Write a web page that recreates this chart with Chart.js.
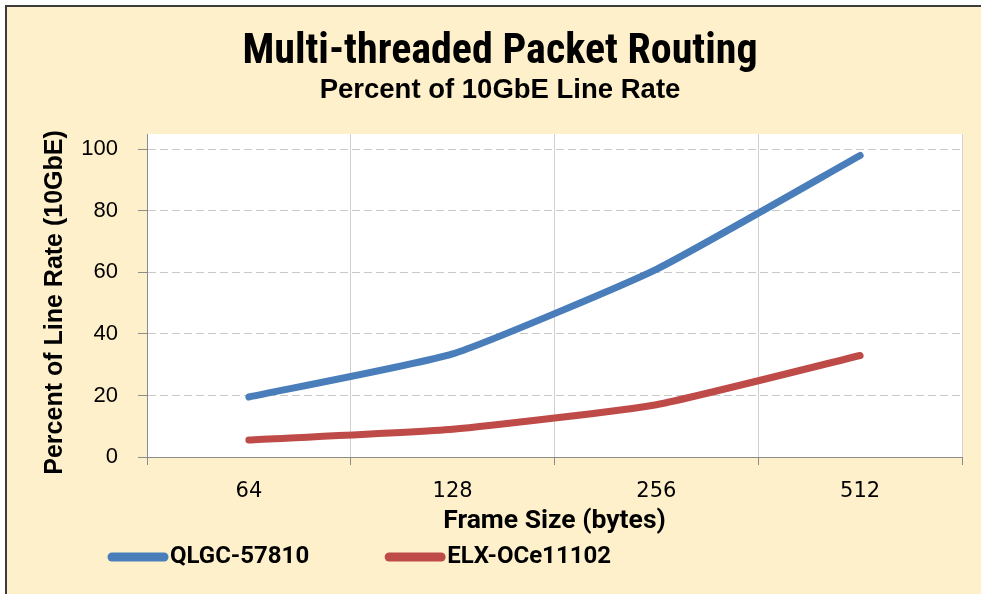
<!DOCTYPE html>
<html>
<head>
<meta charset="utf-8">
<title>Multi-threaded Packet Routing</title>
<script src="https://cdn.jsdelivr.net/npm/chart.js@4.4.1/dist/chart.umd.min.js"></script>
<style>
    html, body { margin: 0; padding: 0; background: #ffffff; width: 981px; height: 594px; overflow: hidden; }
    #frame {
        position: absolute; left: 5px; top: 5px; right: 0; bottom: 0;
        background: #fff0cc;
        border-left: 2px solid #3c3c3c;
        border-top: 2px solid #3c3c3c;
    }
    #routingChart { position: absolute; left: 0; top: 0; }
</style>
</head>
<body>
<div id="frame"></div>
<canvas id="routingChart" width="981" height="594"></canvas>
<script>
// Данные графика
const frameSizes = ['64', '128', '256', '512'];
const qlgcRate = [19.5, 33.5, 61, 98];
const elxRate = [5.5, 9, 17, 33];
const seriesNames = ['QLGC-57810', 'ELX-OCe11102'];
const seriesColors = ['#4a7ebb', '#be4b48'];
const yTicks = [0, 20, 40, 60, 80, 100];

const condensed = "'Roboto Condensed', sans-serif";
const roboto = "Roboto, sans-serif";
const dejavu = "'DejaVu Sans', sans-serif";
const plain = "'Liberation Sans', Arial, sans-serif";

// белая область построения
const plotBackground = {
    id: 'plotBackground',
    beforeDraw(chart) {
        const { ctx, chartArea: a } = chart;
        ctx.save();
        ctx.fillStyle = '#ffffff';
        ctx.fillRect(a.left, a.top, a.right - a.left, a.bottom - a.top);
        ctx.restore();
    }
};

// легенда внизу слева, как в Excel
const bottomLegend = {
    id: 'bottomLegend',
    afterDraw(chart) {
        const ctx = chart.ctx;
        const y = 557;
        let x = 112;
        ctx.save();
        ctx.font = 'bold 24px ' + roboto;
        ctx.textBaseline = 'middle';
        chart.data.datasets.forEach(ds => {
            ctx.strokeStyle = ds.borderColor;
            ctx.lineWidth = 9;
            ctx.lineCap = 'round';
            ctx.beginPath();
            ctx.moveTo(x, y);
            ctx.lineTo(x + 52, y);
            ctx.stroke();
            ctx.fillStyle = '#000000';
            ctx.fillText(ds.label, x + 58, y);
            x += 58 + ctx.measureText(ds.label).width + 80;
        });
        ctx.restore();
    }
};

let routingChart;

function initChart() {
    const ctx = document.getElementById('routingChart').getContext('2d');
    routingChart = new Chart(ctx, {
        type: 'line',
        data: {
            labels: frameSizes,
            datasets: [
                { label: seriesNames[0], data: qlgcRate, borderColor: seriesColors[0], backgroundColor: seriesColors[0] },
                { label: seriesNames[1], data: elxRate, borderColor: seriesColors[1], backgroundColor: seriesColors[1] }
            ]
        },
        options: {
            responsive: false,
            animation: false,
            devicePixelRatio: 1,
            layout: { padding: { left: 19, right: 0, top: 0, bottom: 57 } },
            elements: {
                line: { borderWidth: 7, tension: 0.15, borderCapStyle: 'round', borderJoinStyle: 'round' },
                point: { radius: 0, hoverRadius: 0 }
            },
            plugins: {
                legend: { display: false },
                tooltip: { enabled: false },
                title: {
                    display: true,
                    text: 'Multi-threaded Packet Routing',
                    color: '#000000',
                    font: { family: condensed, size: 42, weight: 'bold', lineHeight: 1 },
                    padding: { top: 31, bottom: 0 }
                },
                subtitle: {
                    display: true,
                    text: 'Percent of 10GbE Line Rate',
                    color: '#000000',
                    font: { family: plain, size: 27.5, weight: 'bold', lineHeight: 1 },
                    padding: { top: 4, bottom: 29.5 }
                }
            },
            scales: {
                x: {
                    offset: true,
                    afterFit: s => { s.height = 80; },
                    grid: { offset: true, color: '#d0d0d0', lineWidth: 1, tickLength: 8, tickColor: '#8c8c8c' },
                    border: { color: '#8c8c8c', width: 1 },
                    ticks: { color: '#000000', padding: 14, font: { family: dejavu, size: 21 } },
                    title: {
                        display: true,
                        text: 'Frame Size (bytes)',
                        color: '#000000',
                        font: { family: roboto, size: 26.5, weight: 'bold' },
                        padding: { top: 0, bottom: 0 }
                    }
                },
                y: {
                    min: 0,
                    max: 105,
                    afterFit: s => { s.width = 128; },
                    afterBuildTicks: s => { s.ticks = yTicks.map(v => ({ value: v })); },
                    grid: { color: '#c8c8c8', lineWidth: 1, tickLength: 9, tickColor: '#8c8c8c' },
                    border: { color: '#8c8c8c', width: 1, dash: [8, 4] },
                    ticks: { color: '#000000', padding: 20, font: { family: plain, size: 22 } },
                    title: {
                        display: true,
                        text: 'Percent of Line Rate (10GbE)  ',
                        color: '#000000',
                        font: { family: plain, size: 25, weight: 'bold' },
                        padding: { top: 21, bottom: 0 }
                    }
                },
                // пустая ось справа — отступ области построения от края
                yRight: {
                    position: 'right',
                    afterFit: s => { s.width = 19; },
                    grid: { display: false },
                    border: { display: false },
                    ticks: { display: false }
                }
            }
        },
        plugins: [plotBackground, bottomLegend]
    });
}

window.onload = initChart;
</script>
</body>
</html>
